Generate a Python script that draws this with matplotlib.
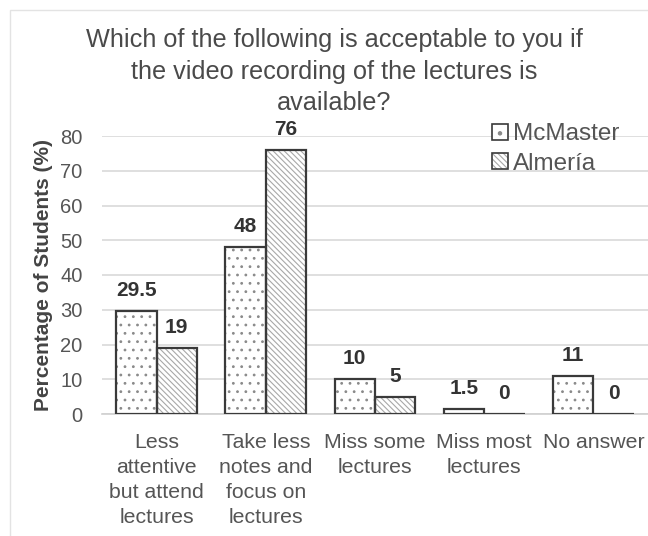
import matplotlib
matplotlib.use("Agg")
import matplotlib.pyplot as plt
import matplotlib.patches as mpatches
from matplotlib.legend_handler import HandlerTuple
import numpy as np

plt.rcParams['font.family'] = ['Liberation Sans', 'DejaVu Sans']
plt.rcParams['hatch.linewidth'] = 0.8

# data
categories = ['Less\nattentive\nbut attend\nlectures',
              'Take less\nnotes and\nfocus on\nlectures',
              'Miss some\nlectures',
              'Miss most\nlectures',
              'No answer']
mcmaster = [29.5, 48, 10, 1.5, 11]
almeria = [19, 76, 5, 0, 0]
mcmaster_labels = ['29.5', '48', '10', '1.5', '11']
almeria_labels = ['19', '76', '5', '0', '0']
series_names = ['McMaster', 'Almería']

fig = plt.figure(figsize=(6.48, 5.36), dpi=100)
ax = fig.add_axes([102 / 648, 1 - 414 / 536, 1 - 102 / 648, 278 / 536])

# faint chart-area frame
fig.patches.append(mpatches.Rectangle((10 / 648, -0.1), 1.2, 1 - 10 / 536 + 0.1,
                                      transform=fig.transFigure, fill=False,
                                      edgecolor='#e3e3e3', linewidth=1.0))

x = np.arange(len(categories))
w = 0.37
dark = '#3a3a3a'
dot_col = '#8a8a8a'
line_col = '#a8a8a8'
dots = '..'
lines = '\\' * 6

# hatched fills (hatch takes the edge colour, so draw outlines separately)
ax.bar(x - w / 2, mcmaster, w, color='white', edgecolor=dot_col, hatch=dots,
       linewidth=0, zorder=2)
ax.bar(x + w / 2, almeria, w, color='white', edgecolor=line_col, hatch=lines,
       linewidth=0, zorder=2)
ax.bar(x - w / 2, mcmaster, w, fill=False, edgecolor=dark, linewidth=1.6, zorder=3)
ax.bar(x + w / 2, almeria, w, fill=False, edgecolor=dark, linewidth=1.6, zorder=3)

for xi, v, s in zip(x - w / 2, mcmaster, mcmaster_labels):
    ax.annotate(s, (xi, v), xytext=(0, 8), textcoords='offset points',
                ha='center', va='bottom', fontsize=15, fontweight='bold', color='#333333')
for xi, v, s in zip(x + w / 2, almeria, almeria_labels):
    ax.annotate(s, (xi, v), xytext=(0, 8), textcoords='offset points',
                ha='center', va='bottom', fontsize=15, fontweight='bold', color='#333333')

ax.set_xlim(-0.5, len(categories) - 0.5)
ax.set_ylim(0, 80)
ax.set_yticks(np.arange(0, 81, 10))
ax.set_xticks(x)
ax.set_xticklabels(categories, fontsize=15.3, color='#555555', linespacing=1.38)
ax.tick_params(axis='y', labelsize=14.5, labelcolor='#555555', length=0, pad=14)
ax.tick_params(axis='x', length=0, pad=14)
ax.grid(axis='y', color='#d9d9d9', linewidth=1.2, zorder=0)
ax.set_axisbelow(True)
for sp in ['top', 'right', 'left']:
    ax.spines[sp].set_visible(False)
ax.spines['bottom'].set_color('#d0d0d0')
ax.spines['bottom'].set_linewidth(1.2)

ax.set_ylabel('Percentage of Students (%)', fontsize=15, fontweight='bold',
              color='#444444', labelpad=5)

fig.text(334 / 648, 1 - 28 / 536, 'Which of the following is acceptable to you if\n'
         'the video recording of the lectures is\navailable?',
         ha='center', va='top', fontsize=18.2, color='#4a4a4a', linespacing=1.4)

h1 = (mpatches.Patch(facecolor='white', edgecolor=dot_col, hatch='.', linewidth=0),
      mpatches.Patch(fill=False, edgecolor=dark, linewidth=1.2))
h2 = (mpatches.Patch(facecolor='white', edgecolor=line_col, hatch=lines, linewidth=0),
      mpatches.Patch(fill=False, edgecolor=dark, linewidth=1.2))
ax.legend([h1, h2], series_names, handler_map={tuple: HandlerTuple(ndivide=1)},
          loc='upper left', bbox_to_anchor=(0.714, 1.045), frameon=False,
          borderpad=0, borderaxespad=0,
          fontsize=17.5, handlelength=0.65, handleheight=0.65, handletextpad=0.2,
          labelspacing=0.3, labelcolor='#555555')

fig.savefig('out.png', dpi=100, facecolor='white')
